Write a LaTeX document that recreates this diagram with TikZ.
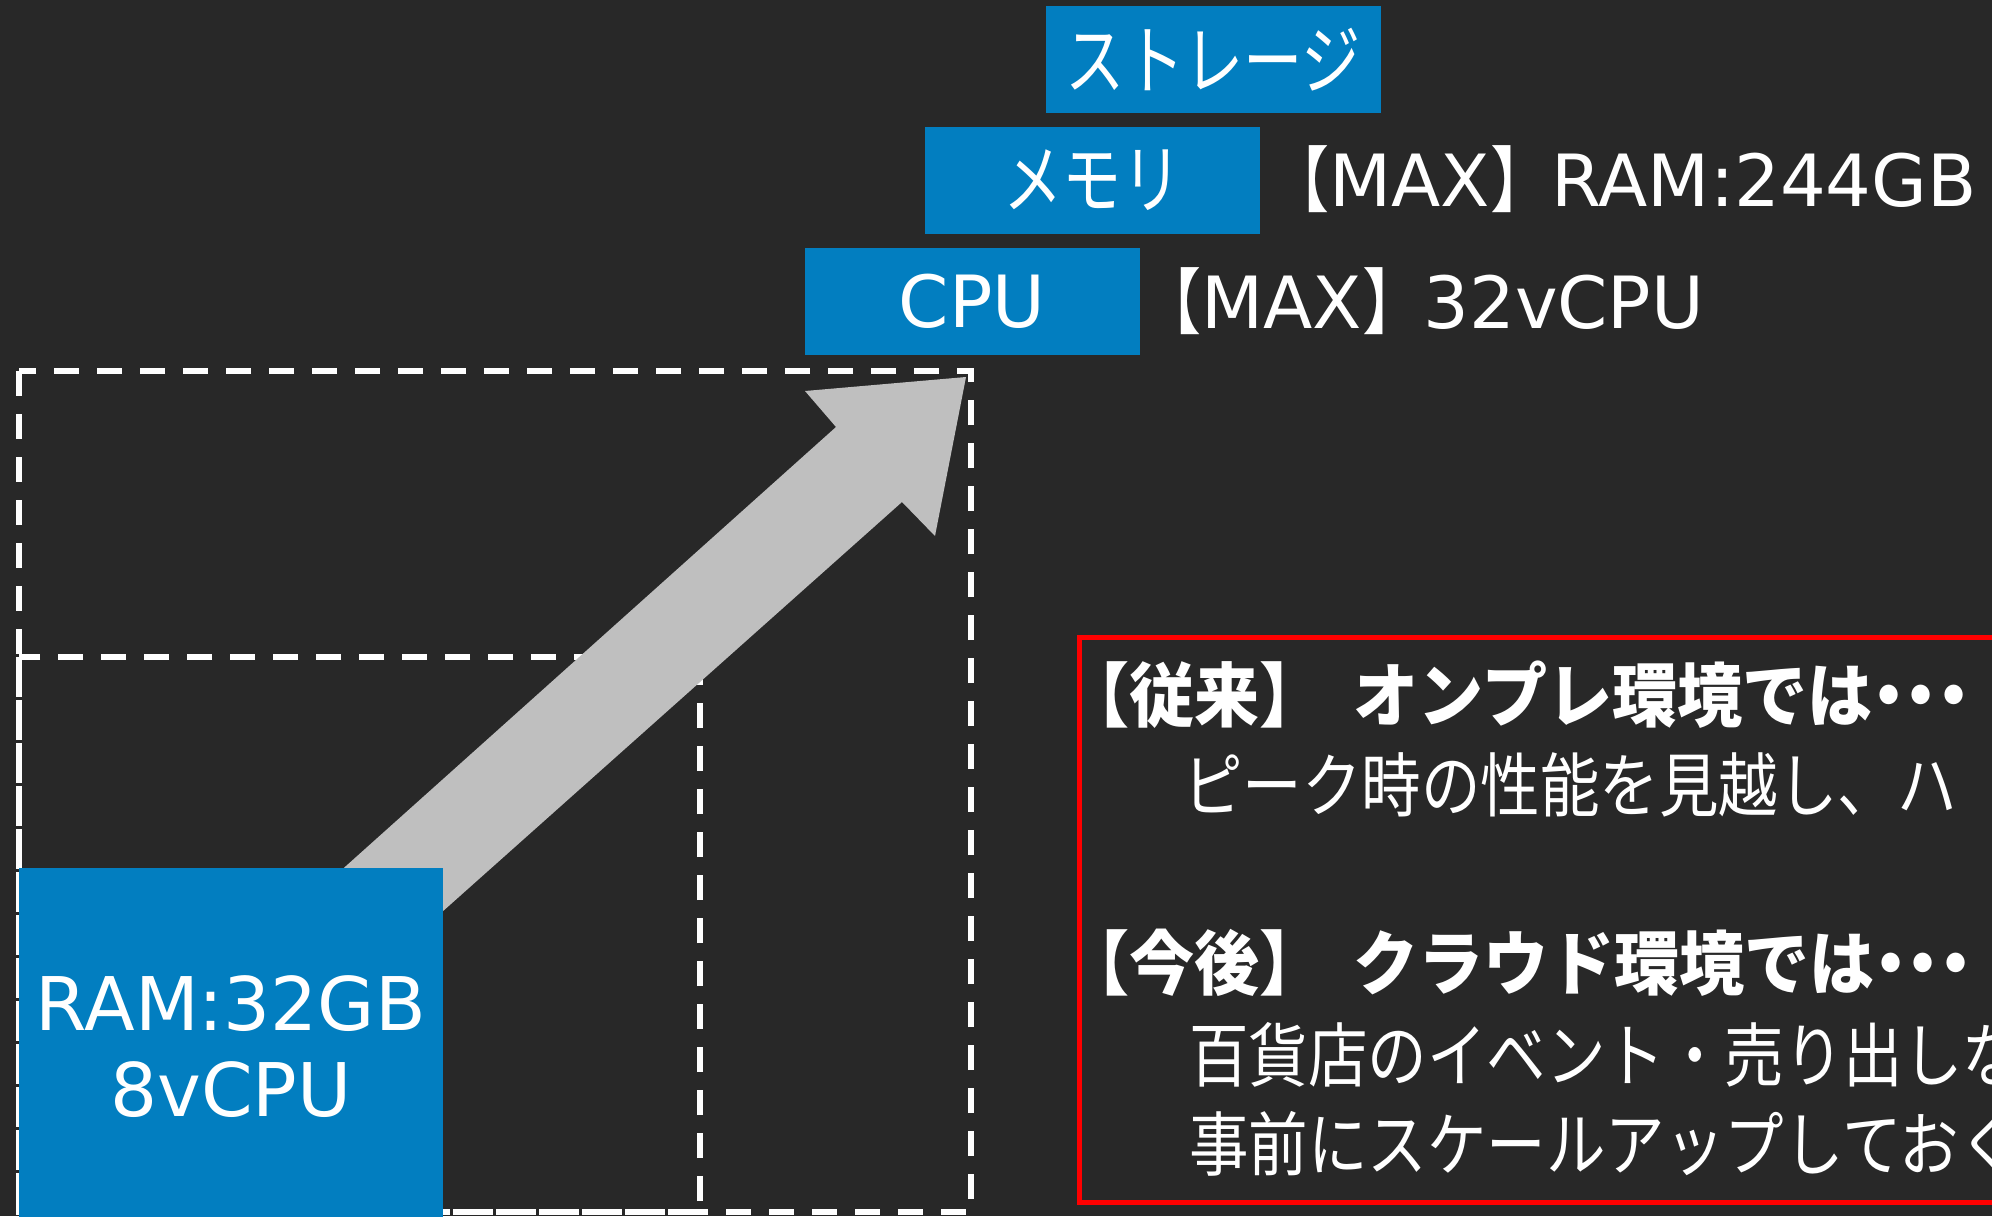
\documentclass[tikz,border=0pt]{standalone}
\usepackage{fontspec}
\setmainfont{DejaVu Sans}
\newfontfamily\jp[FakeStretch=0.85]{Noto Sans CJK JP}
\newfontfamily\jpbox[FakeStretch=0.78]{Noto Sans CJK JP}
\newfontfamily\jpb[FakeStretch=0.93]{Noto Sans CJK JP}
\newfontfamily\jpbp[FakeStretch=0.93,RawFeature=+palt]{Noto Sans CJK JP}
\definecolor{bg}{RGB}{40,40,40}
\definecolor{azure}{RGB}{2,126,192}
\definecolor{arrowgray}{RGB}{191,191,191}
\begin{document}
\begin{tikzpicture}[x=0.5pt,y=-0.5pt,
  dashline/.style={draw=white, line width=2.7pt, dash pattern=on 12.5pt off 9pt},
  bluebox/.style={fill=azure, draw=none, inner sep=0pt, minimum width=167.5pt, minimum height=53.5pt, text=white, font=\fontsize{36}{43}\selectfont},
  lab/.style={text=white, inner sep=0pt, font=\fontsize{36}{43}\selectfont},
  bodytext/.style={text=white, inner sep=0pt, anchor=base west, font=\jp\fontsize{35}{42}\selectfont},
  headtext/.style={bodytext, font=\jpb\bfseries\fontsize{35}{42}\selectfont},
  redbox/.style={draw=red, line width=2.5pt, inner sep=0pt, anchor=north west}]
\useasboundingbox (0,0) rectangle (1992,1216);
\fill[bg] (0,0) rectangle (1992,1216);
\clip (0,0) rectangle (1992,1216);
% dashed frames
\draw[dashline] (19,371) rectangle (971,1212);
\draw[dashline] (19,657) rectangle (700,1212);
% block arrow
\fill[arrowgray] (250,952) -- (836,427) -- (805,391) -- (966,377) -- (935,536) -- (902,502) -- (350,994) -- cycle;
% resource boxes
\node[bluebox] (storage) at (1213.5,59.5) {\jpbox\fontsize{38}{44}\selectfont ストレージ};
\node[bluebox] (memory) at (1092.5,180.5) {\jpbox\fontsize{38}{44}\selectfont メモリ};
\node[bluebox] (cpu) at (972,301) {CPU};
\node[lab, anchor=base west] (maxram) at (1268,206) {{\jp 【}MAX{\jp 】}RAM:244GB};
\node[lab, anchor=base west] (maxcpu) at (1140,328) {{\jp 【}MAX{\jp 】}32vCPU};
% current instance
\node[bluebox, minimum width=212pt, minimum height=179pt, align=center, font=\fontsize{37}{43}\selectfont] (ram) at (231,1047) {RAM:32GB\\8vCPU};
% note box
\node[redbox, minimum width=500pt, minimum height=282.5pt] (note) at (1077,635) {};
\node[headtext] (l1) at (1064,721) {【従来】 \hspace{7pt}オンプレ環境では{\jpbp ・・・}};
\node[bodytext] (l2) at (1183,811) {ピーク時の性能を見越し、ハ};
\node[headtext] (l3) at (1064,989) {【今後】 \hspace{7pt}クラウド環境では{\jpbp ・・・}};
\node[bodytext] (l4) at (1189,1081) {百貨店のイベント・売り出しな};
\node[bodytext] (l5) at (1189,1170) {事前にスケールアップしておく};
\end{tikzpicture}
\end{document}
